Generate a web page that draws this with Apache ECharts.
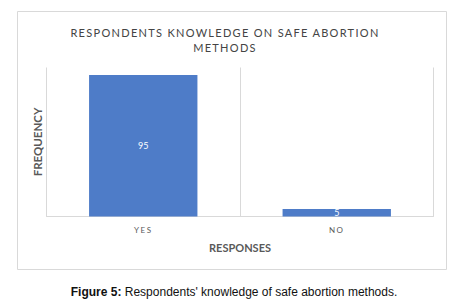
<!DOCTYPE html>
<html>
<head>
<meta charset="utf-8">
<script src="https://cdn.jsdelivr.net/npm/echarts@6/dist/echarts.min.js"></script>
<style>
    html, body { margin: 0; padding: 0; background: #fff; }
    #main { width: 460px; height: 301px; }
</style>
</head>
<body>
<div id="main"></div>
<script>
// chart data
const categories = ['YES', 'NO'];
const frequencies = [95, 5];

const titleLines = ['RESPONDENTS KNOWLEDGE ON SAFE ABORTION', 'METHODS'];
const captionBold = 'Figure 5:';
const captionText = " Respondents' knowledge of safe abortion methods.";

const grey = '#595959';
const lineGrey = '#d9d9d9';

let myChart = echarts.init(document.getElementById('main'), null, {renderer: 'svg'});

let option = {
    animation: false,
    textStyle: {
        fontFamily: 'Lato, sans-serif'
    },
    title: [
        {
            text: titleLines.join('\n'),
            left: 220,
            top: 20,
            textAlign: 'center',
            textStyle: {
                fontSize: 11,
                fontWeight: 'normal',
                color: '#444',
                lineHeight: 15
            }
        },
        {
            text: '{b|' + captionBold + '}{n|' + captionText + '}',
            left: 229,
            top: 281,
            textAlign: 'center',
            textStyle: {
                rich: {
                    b: {fontFamily: 'Liberation Sans, Arial', fontWeight: 'bold', fontSize: 12, color: '#111'},
                    n: {fontFamily: 'Liberation Sans, Arial', fontWeight: 'normal', fontSize: 12, color: '#111'}
                }
            }
        }
    ],
    graphic: [
        {
            type: 'rect',
            shape: {x: 17.5, y: 11.5, width: 429, height: 258},
            style: {fill: 'none', stroke: lineGrey, lineWidth: 1},
            silent: true
        }
    ],
    grid: {
        left: 46.5,
        right: 26.5,
        top: 67.5,
        bottom: 84.5
    },
    xAxis: {
        type: 'category',
        data: categories,
        name: 'RESPONSES',
        nameLocation: 'middle',
        nameGap: 25,
        nameTextStyle: {
            fontSize: 11,
            fontWeight: 'bold',
            color: grey
        },
        axisLine: {lineStyle: {color: lineGrey}},
        axisTick: {show: false},
        axisLabel: {
            fontSize: 8,
            color: grey,
            margin: 9
        },
        splitLine: {
            show: true,
            lineStyle: {color: lineGrey}
        }
    },
    yAxis: {
        type: 'value',
        min: 0,
        max: 100,
        name: 'FREQUENCY',
        nameLocation: 'middle',
        nameRotate: 90,
        nameGap: 3,
        nameTextStyle: {
            fontSize: 11.5,
            fontWeight: 'bold',
            color: grey
        },
        axisLine: {show: false},
        axisTick: {show: false},
        axisLabel: {show: false},
        splitLine: {show: false}
    },
    series: [
        {
            name: 'Frequency',
            type: 'bar',
            data: frequencies,
            barWidth: '56%',
            color: '#4e7cc8',
            label: {
                show: true,
                position: 'inside',
                color: '#fff',
                fontSize: 9
            }
        }
    ]
};

myChart.setOption(option);

// Excel style spaced capitals
const spacing = {
    'RESPONDENTS KNOWLEDGE ON SAFE ABORTION': '1.3px',
    'METHODS': '1.3px',
    'YES': '1.5px',
    'NO': '1.5px'
};
document.querySelectorAll('#main text').forEach(function (t) {
    let s = spacing[t.textContent.trim()];
    if (s) {
        t.style.letterSpacing = s;
    }
});
</script>
</body>
</html>
